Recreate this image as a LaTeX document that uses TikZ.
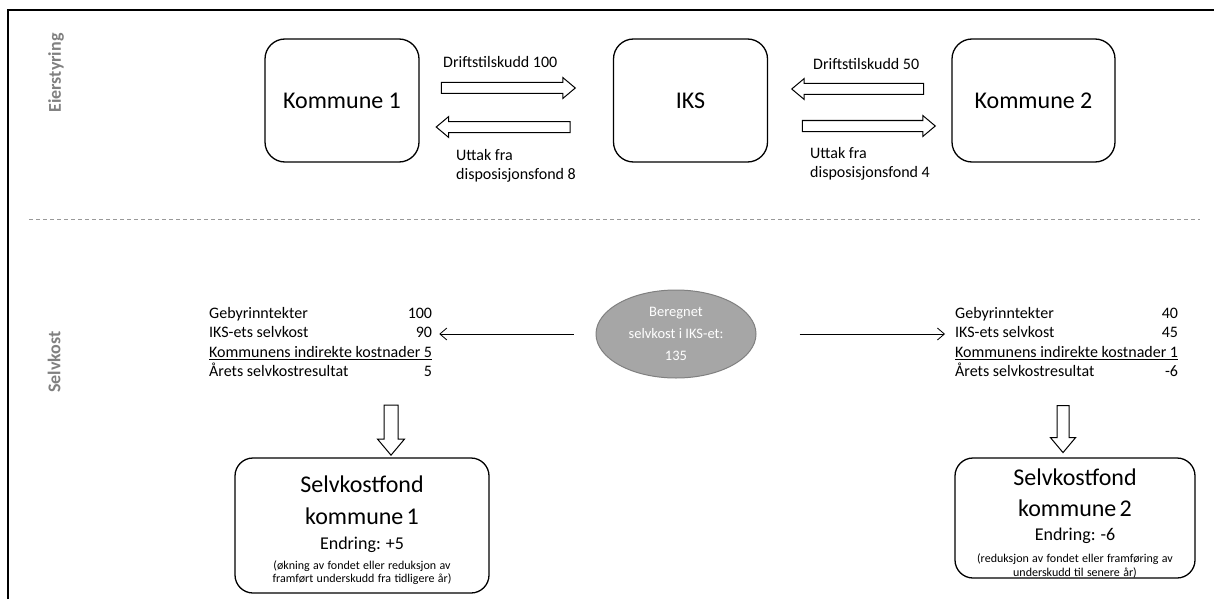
\documentclass[tikz,border=0pt]{standalone}
\usepackage{fontspec}
\setmainfont{Carlito}
\usetikzlibrary{arrows.meta,positioning,shapes.arrows,shapes.geometric,calc}

\begin{document}
\begin{tikzpicture}[x=1pt,y=-1pt,
  box/.style={draw=black,line width=1.3pt,rounded corners=20pt,minimum width=154pt,minimum height=123pt,font=\fontsize{24}{29}\selectfont},
  fondbox/.style={draw=black,line width=1.3pt,rounded corners=18pt,align=center,inner sep=0pt},
  bigarrow/.style={single arrow,draw=black,line width=1pt,inner sep=5pt,single arrow head extend=5pt,single arrow tip angle=80,minimum height=134pt},
  downarrow/.style={bigarrow,inner sep=6.5pt,single arrow head extend=6.5pt,rotate=-90},
  pilnote/.style={font=\fontsize{16}{19}\selectfont,inner sep=0pt,align=left},
  tab/.style={font=\fontsize{16}{19.5}\selectfont,inner sep=0pt,anchor=north west},
  rowtitle/.style={font=\fontsize{18}{20}\selectfont\bfseries,text=black!50,rotate=90,inner sep=0pt},
  arrow/.style={-{Straight Barb[length=7pt,width=12pt]},line width=0.8pt,draw=black}
]
\useasboundingbox (0,0) rectangle (1214,599);
\draw[line width=2pt] (8,599) -- (8,10) -- (1214,10);
\draw[black!40,dash pattern=on 4pt off 3pt,line width=1pt] (29,219) -- (1200,219);

\node[rowtitle] (eier) at (56,73) {Eierstyring};
\node[rowtitle] (selv) at (54,362) {Selvkost};

\node[box] (k1) at (342,100.5) {Kommune 1};
\node[box] (iks) at (690.5,100.5) {IKS};
\node[box,minimum width=163pt] (k2) at (1033.5,100.5) {Kommune 2};

\node[bigarrow] (drift1) at (505,88) {};
\node[bigarrow,rotate=180] (uttak1) at (506.5,127) {};
\node[bigarrow,rotate=180,minimum height=132pt] (drift2) at (861,89) {};
\node[bigarrow,minimum height=133pt] (uttak2) at (865.5,126) {};

\node[pilnote,anchor=west] (d1txt) at (443,62) {Driftstilskudd 100};
\node[pilnote,anchor=north west] (u1txt) at (456,149) {Uttak fra\\disposisjonsfond 8};
\node[pilnote,anchor=west] (d2txt) at (813,64) {Driftstilskudd 50};
\node[pilnote,anchor=north west] (u2txt) at (810,147) {Uttak fra\\disposisjonsfond 4};

\node[ellipse,draw=black!50,fill=black!35,line width=1pt,minimum width=160pt,minimum height=88pt,text=white,align=center,font=\fontsize{14.5}{22}\selectfont] (calc) at (676,334) {Beregnet\\selvkost i IKS-et:\\135};

\node[tab] (tab1) at (209,304.5) {\begin{tabular}{@{}lr@{}}
Gebyrinntekter & 100\\
IKS-ets selvkost & 90\\
\multicolumn{2}{@{}l@{}}{\underline{Kommunens indirekte kostnader 5}}\\
Årets selvkostresultat & 5
\end{tabular}};
\node[tab] (tab2) at (955,304.5) {\begin{tabular}{@{}lr@{}}
Gebyrinntekter & 40\\
IKS-ets selvkost & 45\\
\multicolumn{2}{@{}l@{}}{\underline{Kommunens indirekte kostnader 1}}\\
Årets selvkostresultat & -6
\end{tabular}};

\coordinate (tip1) at ($(tab1.east |- calc)+(7,0)$);
\coordinate (tip2) at ($(tab2.west |- calc)+(-10,0)$);
\draw[arrow,shorten <=22pt] (calc) -- (tip1);
\draw[arrow,shorten <=43pt] (calc) -- (tip2);

\node[downarrow,minimum height=50pt] (down1) at (391,426) {};
\node[downarrow,minimum height=47pt,inner sep=5.5pt,single arrow head extend=6.5pt] (down2) at (1063,425.5) {};

\node[fondbox,text width=254pt,minimum height=135pt] (fond1) at (362,525.5) {%
{\fontsize{24}{32}\selectfont\rule{0pt}{27pt}Selvkostfond\par kommune 1\par}
{\fontsize{18}{25}\selectfont Endring: +5\par}
\vspace{6pt}
{\fontsize{12}{13.5}\selectfont (økning av fondet eller reduksjon av\par framført underskudd fra tidligere år)\par}};
\node[fondbox,text width=240pt,minimum height=120pt] (fond2) at (1075,518) {%
{\fontsize{24}{31}\selectfont\rule{0pt}{27pt}Selvkostfond\par kommune 2\par}
{\fontsize{18}{24}\selectfont Endring: -6\par}
\vspace{8pt}
{\fontsize{12}{14}\selectfont (reduksjon av fondet eller framføring av\par underskudd til senere år)\par}};
\end{tikzpicture}
\end{document}
